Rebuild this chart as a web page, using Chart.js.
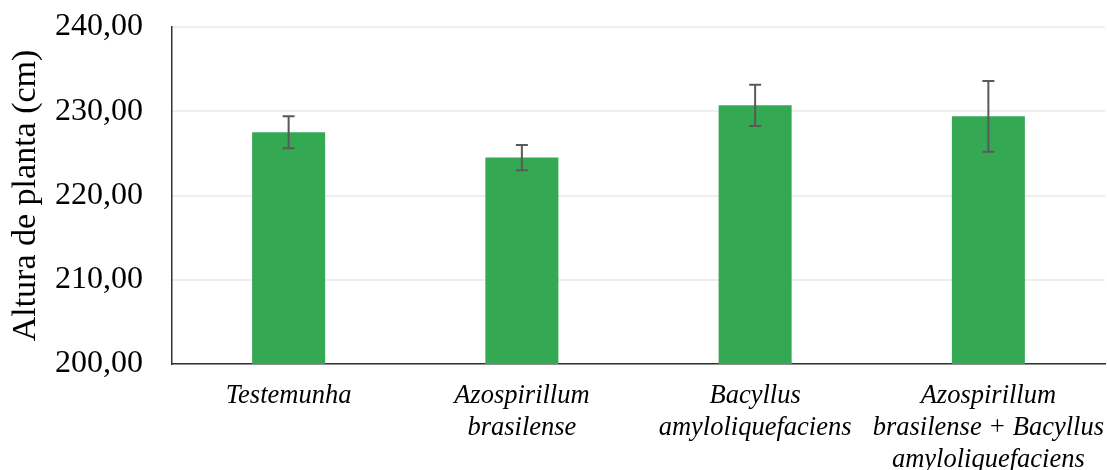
<!DOCTYPE html>
<html>
<head>
<meta charset="utf-8">
<script src="https://cdn.jsdelivr.net/npm/chart.js@4"></script>
<style>
  html, body { margin: 0; padding: 0; background: #fff; }
  #wrap { width: 1107px; height: 470px; }
</style>
</head>
<body>
<div id="wrap"><canvas id="chart"></canvas></div>
<script>
// tratamentos
const categories = [
  ["Testemunha"],
  ["Azospirillum", "brasilense"],
  ["Bacyllus", "amyloliquefaciens"],
  ["Azospirillum", "brasilense + Bacyllus", "amyloliquefaciens"]
];
// altura média (cm) e erro padrão
const alturas = [227.5, 224.5, 230.7, 229.4];
const erros = [1.9, 1.5, 2.45, 4.2];
const yTicks = [200, 210, 220, 230, 240];

// desenha as barras de erro usando a escala y
const errorBars = {
  id: "errorBars",
  afterDatasetsDraw(chart) {
    const ctx = chart.ctx;
    const y = chart.scales.y;
    const meta = chart.getDatasetMeta(0);
    ctx.save();
    ctx.strokeStyle = "#595959";
    ctx.lineWidth = 2;
    meta.data.forEach((bar, i) => {
      const top = y.getPixelForValue(alturas[i] + erros[i]);
      const bot = y.getPixelForValue(alturas[i] - erros[i]);
      ctx.beginPath();
      ctx.moveTo(bar.x, top);
      ctx.lineTo(bar.x, bot);
      ctx.moveTo(bar.x - 6, top);
      ctx.lineTo(bar.x + 6, top);
      ctx.moveTo(bar.x - 6, bot);
      ctx.lineTo(bar.x + 6, bot);
      ctx.stroke();
    });
    ctx.restore();
  }
};

new Chart(document.getElementById("chart"), {
  type: "bar",
  data: {
    labels: categories,
    datasets: [{
      data: alturas,
      backgroundColor: "#35a853",
      barPercentage: 0.313,
      categoryPercentage: 1
    }]
  },
  options: {
    responsive: true,
    maintainAspectRatio: false,
    animation: false,
    layout: { padding: { top: 27, right: 2, left: 0, bottom: 0 } },
    plugins: { legend: { display: false }, tooltip: { enabled: false } },
    scales: {
      x: {
        grid: { display: false, drawTicks: false },
        border: { color: "#333", width: 1.5 },
        ticks: {
          color: "#000",
          padding: 16,
          maxRotation: 0,
          autoSkip: false,
          font: { family: "Liberation Serif", size: 26.5, style: "italic", lineHeight: 1.21 }
        },
        afterFit(scale) {
          scale.height = 106;
          scale.paddingLeft = 0;
          scale.paddingRight = 0;
        }
      },
      y: {
        min: 200,
        max: 240,
        afterBuildTicks(scale) { scale.ticks = yTicks.map(v => ({ value: v })); },
        grid: { color: "#eeeeee", lineWidth: 2, drawTicks: false },
        border: { color: "#333", width: 1.5 },
        ticks: {
          color: "#000",
          padding: 29,
          font: { family: "Liberation Serif", size: 32 },
          callback: v => v.toFixed(2).replace(".", ",")
        },
        title: {
          display: true,
          text: "Altura de planta (cm)",
          color: "#000",
          padding: { top: 6, bottom: 0 },
          font: { family: "Liberation Serif", size: 34 }
        },
        afterFit(scale) {
          scale.width = 172;
          scale.paddingTop = 0;
          scale.paddingBottom = 0;
        }
      }
    }
  },
  plugins: [errorBars]
});
</script>
</body>
</html>
